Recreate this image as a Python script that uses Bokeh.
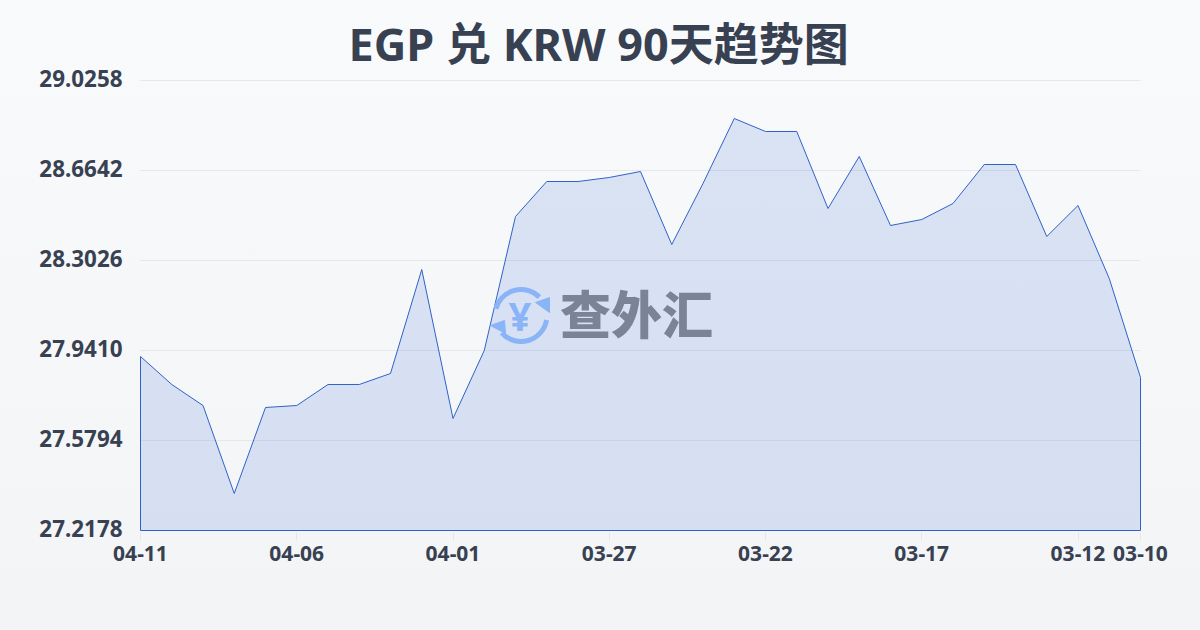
import math
from bokeh.plotting import figure
from bokeh.embed import file_html
from bokeh.resources import INLINE
from bokeh.models import FixedTicker, Label, GlobalInlineStyleSheet, Range1d, LinearAxis

title_text = "EGP 兑 KRW 90天趋势图"
watermark_text = "查外汇"
values = [27.9169, 27.8044, 27.7200, 27.3665, 27.7120, 27.7200, 27.8044, 27.8044, 27.8486,
          28.2664, 27.6678, 27.9410, 28.4794, 28.6200, 28.6200, 28.6361, 28.6602, 28.3669,
          28.6120, 28.8731, 28.8209, 28.8209, 28.5115, 28.7205, 28.4432, 28.4673, 28.5316,
          28.6883, 28.6883, 28.3990, 28.5236, 28.2303, 27.8325]
x_tick_idx = [0, 5, 10, 15, 20, 25, 30, 32]
x_tick_labels = ["04-11", "04-06", "04-01", "03-27", "03-22", "03-17", "03-12", "03-10"]
y_ticks = [27.2178, 27.5794, 27.9410, 28.3026, 28.6642, 29.0258]

Y0, Y1 = y_ticks[0], y_ticks[-1]
idx = list(range(len(values)))
dy_px = (Y1 - Y0) / 450   # one pixel in y units
dx_px = 32 / 1000         # one pixel in x units

# the frame is 2px larger than the plot area so the outline and top grid line are not clipped
p = figure(width=1200, height=630, output_backend="svg", toolbar_location=None,
           x_range=Range1d(-dx_px * 2, 32 + dx_px * 2), y_range=Range1d(Y0 - dy_px * 2, Y1 + dy_px * 2),
           min_border_left=138, min_border_right=58, min_border_top=78, min_border_bottom=98)
p.frame_width = 1004
p.frame_height = 454
p.background_fill_alpha = 0
p.border_fill_alpha = 0
p.outline_line_alpha = 0
p.stylesheets = [GlobalInlineStyleSheet(css="html,body{margin:0;padding:0;overflow:hidden;background:linear-gradient(180deg,#f9fafc,#f3f4f6);height:630px;}")]

# title
p.title.text = title_text
p.title.align = "left"
p.title.offset = 210
p.title.standoff = 9
p.title.text_font = "Noto Sans, Noto Sans CJK SC"
p.title.text_font_style = "bold"
p.title.text_font_size = "45px"
p.title.text_color = "#374151"

# grid lines stop exactly at the plot area
p.xgrid.visible = False
p.ygrid.visible = False
p.yaxis[0].visible = False
p.segment(x0=[idx[0]] * len(y_ticks), x1=[idx[-1]] * len(y_ticks), y0=y_ticks, y1=y_ticks,
          line_color="#e5e7eb", line_width=1)

# labels sit 2px above their grid lines: axis on a range shifted by 2px
p.extra_y_ranges = {"labels": Range1d(Y0 - dy_px * 4, Y1)}
ya = LinearAxis(y_range_name="labels")
ya.ticker = FixedTicker(ticks=y_ticks)
ya.major_label_overrides = {t: f"{t:.4f}" for t in y_ticks}
ya.axis_line_alpha = 0
ya.major_tick_line_alpha = 0
ya.minor_tick_line_alpha = 0
ya.major_tick_out = 0
ya.major_tick_in = 0
ya.major_label_standoff = 16
ya.major_label_text_font = "Noto Sans"
ya.major_label_text_font_style = "bold"
ya.major_label_text_font_size = "22.4px"
ya.major_label_text_color = "#374151"
p.add_layout(ya, "left")

xa = p.xaxis[0]
xa.ticker = FixedTicker(ticks=x_tick_idx)
xa.major_label_overrides = dict(zip(x_tick_idx, x_tick_labels))
xa.axis_line_alpha = 0
xa.minor_tick_line_alpha = 0
xa.major_tick_line_color = "#e5e7eb"
xa.major_tick_out = 8
xa.major_tick_in = 0
xa.major_label_standoff = 5
xa.major_label_text_font = "Noto Sans"
xa.major_label_text_font_style = "bold"
xa.major_label_text_font_size = "21px"
xa.major_label_text_color = "#374151"

# area: polygon closed along the axis baseline
p.patch(idx + [idx[-1], idx[0]], values + [Y0, Y0],
        fill_color="#2b5fd0", fill_alpha=0.145,
        line_color="#2f62c8", line_width=1)

# watermark logo, placed by pixel position in the page
def px(x):
    return (x - 140) / 1000 * 32
def py(y):
    return Y0 + (530 - y) / 450 * (Y1 - Y0)

logo = "#8ab4f8"
cx, cy = 520.5, 315
p.arc(x=[px(cx)], y=[py(cy)], radius=26, radius_units="screen",
      start_angle=[math.radians(45)], end_angle=[math.radians(165)],
      line_color=logo, line_width=5)
p.arc(x=[px(cx)], y=[py(cy)], radius=26, radius_units="screen",
      start_angle=[math.radians(222)], end_angle=[math.radians(350)],
      line_color=logo, line_width=5)
p.patch([px(535), px(549), px(549)], [py(302), py(297), py(312)], color=logo)
p.patch([px(490), px(504), px(505)], [py(325), py(320), py(333)], color=logo)

p.add_layout(Label(x=px(cx - 1), y=py(cy), text="¥", text_font="Noto Sans", text_font_style="bold",
                   text_font_size="40px", text_color=logo, text_align="center", text_baseline="middle"))
p.add_layout(Label(x=px(636), y=py(311), text=watermark_text, text_font="Noto Sans CJK SC Black, Noto Sans CJK SC",
                   text_font_style="bold", text_font_size="51px", text_color="#7b8497",
                   text_align="center", text_baseline="middle"))

open("out.html", "w").write(file_html(p, INLINE))
